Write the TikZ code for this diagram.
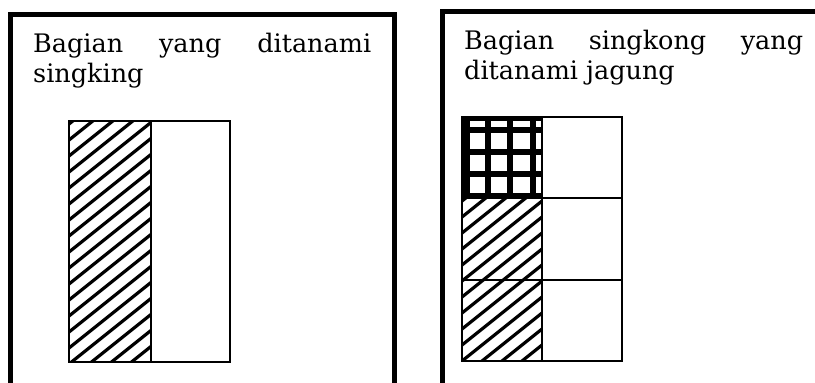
\documentclass[tikz,border=0pt]{standalone}
\usepackage{fontspec}
\setmainfont{DejaVu Serif}
\usetikzlibrary{positioning}

\begin{document}
\begin{tikzpicture}[x=1pt,y=-1pt,
  frame/.style={line width=5pt},
  cellline/.style={line width=1.8pt},
  hatchline/.style={line width=3.2pt},
  crossbar/.style={line width=6pt},
  caption/.style={inner sep=0pt,anchor=base west,font=\fontsize{25.5}{30.5}\selectfont}]
\useasboundingbox (0,0) rectangle (815,383);
\clip (0,0) rectangle (815,383);

% Left panel: whole field
\draw[frame] (10,400) -- (10,14.5) -- (394,14.5) -- (394,400);
\node[caption] (lefttext) at (33,52) {\parbox[t]{338pt}{\tolerance=10000\hbadness=10000\hyphenpenalty=10000 Bagian yang ditanami singking}};

% hatched half
\begin{scope}
\clip (69,121) rectangle (151,362);
\foreach \y in {124,140,...,441}
  \draw[hatchline] (69,\y) -- ++(120,-96);
\end{scope}
\draw[cellline] (69,121) rectangle (230,362);
\draw[cellline] (151,121) -- (151,362);

% Right panel: part of the singkong field
\draw[frame] (442,400) -- (442,11) -- (830,11);
\node[caption] (righttext) at (464,49) {\parbox[t]{339pt}{\tolerance=10000\hbadness=10000\hyphenpenalty=10000 Bagian singkong yang ditanami jagung}};

% hatched cells
\begin{scope}
\clip (462,198) rectangle (542,361);
\foreach \y in {201,217,...,440}
  \draw[hatchline] (462,\y) -- ++(120,-96);
\end{scope}

% crossed cell (jagung)
\begin{scope}
\clip (462,117) rectangle (542,198);
\draw[crossbar,line width=9pt] (465,117) -- (465,198);
\foreach \x in {488,510,533}
  \draw[crossbar] (\x,117) -- (\x,198);
\draw[crossbar] (462,118) -- (542,118);
\foreach \y in {130,152,174,196}
  \draw[crossbar] (462,\y) -- (542,\y);
\end{scope}

% grid 3 x 2
\draw[cellline] (462,117) rectangle (622,361);
\draw[cellline] (542,117) -- (542,361);
\foreach \y in {198,280}
  \draw[cellline] (462,\y) -- (622,\y);
\end{tikzpicture}
\end{document}
